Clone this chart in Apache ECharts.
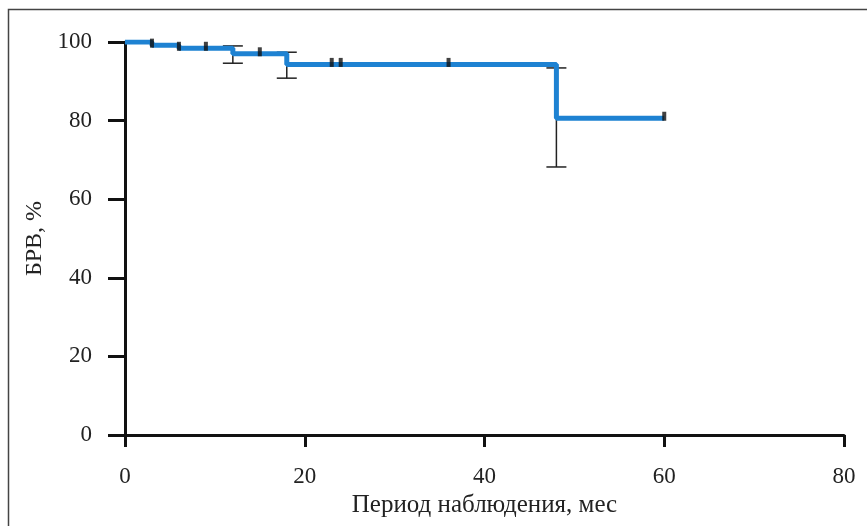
<!DOCTYPE html>
<html>
<head>
<meta charset="utf-8">
<script src="https://cdn.jsdelivr.net/npm/echarts@6/dist/echarts.min.js"></script>
<style>
html,body{margin:0;padding:0;background:#fff;}
#main{width:867px;height:526px;}
</style>
</head>
<body>
<div id="main"></div>
<script>
// кривая выживаемости (ступени)
var stepMonths = [0, 3, 6, 12, 18, 48, 60];
var stepValues = [100, 99.2, 98.4, 97.0, 94.3, 80.6, 80.6];
// цензурированные наблюдения
var censorMonths = [3, 6, 9, 15, 23, 24, 36, 60];
var censorValues = [99.2, 98.4, 98.4, 97.0, 94.3, 94.3, 94.3, 80.6];
// доверительные интервалы
var errMonths = [12, 18, 48];
var errLow = [94.6, 90.8, 68.2];
var errHigh = [99.0, 97.4, 93.4];

var xTicks = [0, 20, 40, 60, 80];
var yTicks = [0, 20, 40, 60, 80, 100];

var font = 'Liberation Serif';
var chart = echarts.init(document.getElementById('main'));

var lineData = [];
for (var i = 0; i < stepMonths.length; i++) {
    lineData.push([stepMonths[i], stepValues[i]]);
}
var censorData = [];
for (var i = 0; i < censorMonths.length; i++) {
    censorData.push([censorMonths[i], censorValues[i]]);
}
var errData = [];
for (var i = 0; i < errMonths.length; i++) {
    errData.push([errMonths[i], errLow[i], errHigh[i]]);
}

var option = {
    animation: false,
    backgroundColor: '#fff',
    graphic: [{
        type: 'rect',
        shape: {x: 8.5, y: 9.5, width: 880, height: 540},
        style: {fill: 'none', stroke: '#444', lineWidth: 1.5},
        z: 0
    }],
    grid: {left: 125, right: 23, top: 42, bottom: 91},
    xAxis: {
        type: 'value', min: 0, max: 80, interval: 20,
        name: 'Период наблюдения, мес',
        nameLocation: 'middle', nameGap: 49,
        nameTextStyle: {fontFamily: font, fontSize: 25, color: '#222', verticalAlign: 'top'},
        axisLine: {lineStyle: {color: '#111', width: 3}},
        axisTick: {show: true, length: 12, inside: false, lineStyle: {color: '#111', width: 3}},
        axisLabel: {fontFamily: font, fontSize: 23, color: '#222', margin: 30, verticalAlign: 'top',
            formatter: function (v) { return xTicks.indexOf(v) >= 0 ? String(v) : ''; }},
        splitLine: {show: false}
    },
    yAxis: {
        type: 'value', min: 0, max: 100, interval: 20,
        name: 'БРВ, %',
        nameLocation: 'middle', nameGap: 62, nameRotate: 90,
        nameTextStyle: {fontFamily: font, fontSize: 24, color: '#222'},
        axisLine: {show: true, lineStyle: {color: '#111', width: 3}},
        axisTick: {show: true, length: 17, inside: false, lineStyle: {color: '#111', width: 3}},
        axisLabel: {fontFamily: font, fontSize: 23, color: '#222', margin: 33,
            formatter: function (v) { return yTicks.indexOf(v) >= 0 ? String(v) : ''; }},
        splitLine: {show: false}
    },
    series: [
        {
            type: 'custom',
            name: 'ci',
            data: errData,
            z: 3,
            renderItem: function (params, api) {
                var x = api.value(0);
                var lo = api.coord([x, api.value(1)]);
                var hi = api.coord([x, api.value(2)]);
                var half = 10;
                var st = {stroke: '#222', lineWidth: 1.5};
                return {
                    type: 'group',
                    children: [
                        {type: 'line', shape: {x1: lo[0], y1: lo[1], x2: hi[0], y2: hi[1]}, style: st},
                        {type: 'line', shape: {x1: lo[0] - half, y1: lo[1], x2: lo[0] + half, y2: lo[1]}, style: st},
                        {type: 'line', shape: {x1: hi[0] - half, y1: hi[1], x2: hi[0] + half, y2: hi[1]}, style: st}
                    ]
                };
            }
        },
        {
            type: 'line',
            name: 'КМ',
            data: lineData,
            step: 'end',
            symbol: 'none',
            z: 4,
            lineStyle: {color: '#1e82d2', width: 5}
        },
        {
            type: 'scatter',
            name: 'censored',
            data: censorData,
            symbol: 'rect',
            symbolSize: [4, 9],
            symbolOffset: [0, -2],
            z: 5,
            itemStyle: {color: '#111'}
        }
    ]
};
chart.setOption(option);
</script>
</body>
</html>
